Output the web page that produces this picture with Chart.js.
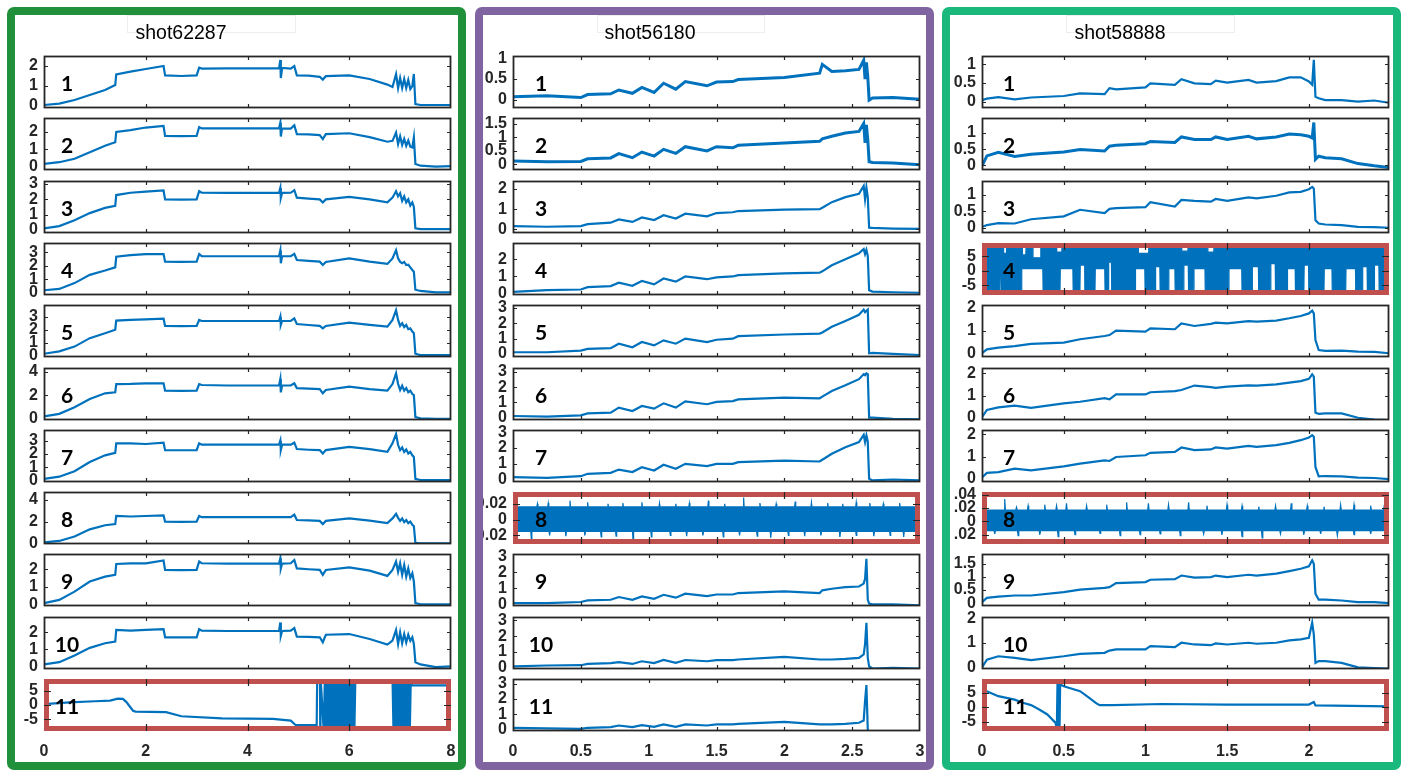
<!DOCTYPE html>
<html><head><meta charset="utf-8"><title>shots</title>
<script src="https://cdn.jsdelivr.net/npm/chart.js@4.4.1/dist/chart.umd.min.js"></script>
<style>
html,body{margin:0;padding:0;background:#fff}
#fig{position:relative;width:1409px;height:777px;overflow:hidden;background:#fff}
.panel{position:absolute;top:7px;width:443px;height:747px;border:8px solid;border-radius:7px;z-index:5}
.tbox{position:absolute;top:15px;height:16px;border:1px solid #eeeeee;z-index:1}
.title{position:absolute;top:23px;font-family:"Liberation Sans",Arial,sans-serif;font-size:19.5px;line-height:1;color:#000;z-index:3;white-space:nowrap;transform:translateX(-50%)}
.num{position:absolute;font-family:Lato,"Open Sans",sans-serif;font-weight:700;font-size:21px;line-height:1;color:#000;z-index:3;white-space:nowrap}
canvas{position:absolute;z-index:2}
</style></head>
<body><div id="fig"></div>
<script>
// ---------------- DATA ----------------
const TITLES = ['shot62287','shot56180','shot58888'];
const P1_XTICKS = [0,2,4,6,8];
const P2_XTICKS = [0,0.5,1,1.5,2,2.5,3];
const P3_XTICKS = [0,0.5,1,1.5,2];

// shot62287 (panel 1)
const P1_T = [0,0.3,0.6,0.9,1.2,1.4,1.42,1.7,2.0,2.35,2.38,2.7,3.0,3.05,3.1,3.6,4.1,4.62,4.645,4.655,4.68,4.85,4.92,4.97,5.2,5.42,5.48,5.54,6.0,6.4,6.75,6.85,6.92,6.96,7.0,7.04,7.08,7.12,7.16,7.2,7.24,7.27,7.3,7.4,7.7,8.0];
const P1_S1 = [0.05,0.12,0.3,0.55,0.8,1.05,1.58,1.72,1.85,2.0,1.53,1.5,1.53,1.92,1.87,1.88,1.88,1.88,2.3,1.4,1.9,1.87,2.0,1.53,1.52,1.46,1.32,1.49,1.53,1.35,1.07,0.95,1.6,0.9,1.4,0.9,1.35,0.9,1.3,0.85,1.0,1.6,0.1,0.05,0.05,0.05];
const P1_S2 = [0.15,0.25,0.45,0.82,1.2,1.4,2.0,2.1,2.25,2.34,1.77,1.76,1.77,2.28,2.2,2.2,2.2,2.2,2.53,1.73,2.2,2.19,2.38,1.87,1.85,1.81,1.58,1.87,1.92,1.7,1.43,1.48,1.96,1.3,1.75,1.25,1.6,1.2,1.5,1.15,1.1,1.68,0.15,0.05,0.0,0.02];
const P1_S3 = [0.1,0.25,0.63,1.1,1.44,1.58,2.28,2.43,2.5,2.58,2.0,1.98,2.0,2.53,2.43,2.42,2.42,2.42,2.75,2.1,2.42,2.43,2.6,2.11,2.05,2.0,1.8,2.0,2.16,2.0,1.8,2.11,2.53,2.2,2.4,1.9,2.2,1.8,2.0,1.6,1.8,1.5,0.1,0.05,0.05,0.05];
const P1_S4 = [0.2,0.3,0.73,1.34,1.66,1.9,2.68,2.8,2.88,2.88,2.32,2.3,2.32,2.88,2.73,2.72,2.72,2.72,3.15,2.2,2.72,2.73,2.9,2.44,2.38,2.32,2.07,2.3,2.56,2.32,2.15,2.56,3.17,2.56,2.3,2.2,2.3,2.07,2.1,1.9,1.7,1.58,0.24,0.15,0.05,0.05];
const P1_S5 = [0.15,0.33,0.7,1.35,1.73,2.0,2.7,2.75,2.8,2.85,2.29,2.28,2.29,2.75,2.67,2.67,2.67,2.67,3.0,2.37,2.67,2.67,2.87,2.44,2.36,2.29,2.1,2.29,2.54,2.37,2.24,2.75,3.5,2.75,2.29,2.5,2.2,2.37,2.04,2.1,1.86,1.73,0.15,0.05,0.05,0.05];
const P1_S6 = [0.2,0.42,0.98,1.68,2.16,2.24,2.94,2.95,3.0,3.0,2.38,2.37,2.38,2.94,2.86,2.82,2.82,2.82,3.36,2.24,2.82,2.82,3.0,2.6,2.55,2.52,2.16,2.44,2.72,2.52,2.38,2.94,3.84,2.94,2.44,2.8,2.38,2.6,2.24,2.38,2.1,2.0,0.14,0.05,0.0,0.0];
const P1_S7 = [0.13,0.3,0.71,1.4,1.9,2.08,2.8,2.8,2.75,2.85,2.29,2.28,2.29,2.8,2.7,2.7,2.7,2.7,3.0,2.3,2.7,2.7,2.85,2.37,2.32,2.29,2.03,2.29,2.54,2.37,2.16,2.8,3.5,2.67,2.29,2.49,2.16,2.34,2.03,2.16,1.9,1.78,0.13,0.05,0.05,0.05];
const P1_S8 = [0.1,0.23,0.63,1.29,1.66,1.77,2.51,2.46,2.51,2.57,2.0,1.98,2.0,2.51,2.4,2.4,2.4,2.4,2.4,2.4,2.4,2.4,2.63,2.14,2.1,2.06,1.77,2.06,2.29,2.09,1.86,2.29,2.71,2.34,2.06,2.29,1.94,2.14,1.86,2.0,1.71,1.57,0.06,0.02,0.02,0.02];
const P1_S9 = [0.06,0.25,0.72,1.3,1.58,1.68,2.3,2.34,2.34,2.5,1.96,1.95,1.96,2.44,2.34,2.32,2.32,2.32,2.63,2.05,2.32,2.34,2.53,2.05,2.0,1.96,1.68,1.96,2.1,1.92,1.62,1.96,2.44,1.85,2.34,1.68,2.24,1.58,2.05,1.5,1.77,1.3,0.06,0.0,0.0,0.0];
const P1_S10 = [0.12,0.25,0.64,1.09,1.36,1.46,2.14,2.1,2.14,2.19,1.71,1.7,1.71,2.19,2.1,2.08,2.08,2.08,2.58,1.8,2.08,2.1,2.25,1.75,1.73,1.71,1.42,1.86,1.9,1.61,1.28,1.51,2.14,1.32,2.0,1.36,1.9,1.4,1.86,1.5,1.71,1.32,0.25,0.12,-0.04,0.0];
const P1_T11 = [0,0.5,1.0,1.3,1.45,1.55,1.62,1.75,1.8,2.4,2.7,3.5,4.5,4.85,4.95,5.36,5.37,5.425,5.43,5.435,
  5.50,5.52,5.54,5.56,5.58,5.60,5.62,5.64,5.66,5.68,5.70,5.72,5.74,5.76,5.78,5.80,5.82,5.84,5.86,5.88,5.90,5.92,5.94,5.96,5.98,6.00,6.02,6.04,6.06,6.08,6.10,6.12,
  6.14,6.85,
  6.87,6.89,6.91,6.93,6.95,6.97,6.99,7.01,7.03,7.05,7.07,7.09,7.11,7.13,7.15,7.17,7.19,7.21,
  7.23,8.0];
const P1_S11 = [0.3,0.9,1.3,1.5,2.2,2.1,1.0,-2.0,-2.3,-2.5,-3.9,-4.6,-4.8,-5.4,-7.0,-7.0,10,10,-10,10,
  -9.5,9.5,-9.5,9.5,-9.5,9.5,-9.5,9.5,-9.5,9.5,-9.5,9.5,-9.5,9.5,-9.5,9.5,-9.5,9.5,-9.5,9.5,-9.5,9.5,-9.5,9.5,-9.5,9.5,-9.5,9.5,-9.5,9.5,-9.5,9.5,
  10,10,
  -9.5,9.5,-9.5,9.5,-9.5,9.5,-9.5,9.5,-9.5,9.5,-9.5,9.5,-9.5,9.5,-9.5,9.5,-9.5,9.5,
  6.9,6.8];

// shot56180 (panel 2)
const P2_T = [0,0.25,0.5,0.55,0.72,0.78,0.88,0.95,1.04,1.11,1.2,1.27,1.43,1.5,1.62,1.66,2.0,2.26,2.28,2.35,2.45,2.55,2.585,2.595,2.605,2.615,2.625,2.65,2.8,3.0];
const P2_S1 = [0.08,0.1,0.06,0.13,0.15,0.24,0.16,0.3,0.18,0.4,0.26,0.44,0.34,0.43,0.44,0.49,0.54,0.64,0.85,0.68,0.7,0.73,0.95,0.5,0.9,0.55,0.0,0.05,0.06,0.02];
const P2_S2 = [0.12,0.09,0.1,0.2,0.23,0.39,0.24,0.45,0.3,0.55,0.4,0.65,0.49,0.65,0.61,0.7,0.79,0.85,0.94,1.04,1.16,1.22,1.52,0.79,1.46,0.91,0.09,0.06,0.04,-0.02];
const P2_S3 = [0.16,0.13,0.16,0.26,0.33,0.49,0.37,0.59,0.46,0.7,0.54,0.78,0.65,0.81,0.85,0.91,0.98,1.0,1.07,1.35,1.6,1.76,2.16,1.5,2.08,1.6,0.08,0.07,0.04,0.02];
const P2_S4 = [0.1,0.2,0.24,0.38,0.44,0.64,0.46,0.74,0.54,0.88,0.7,1.0,0.84,0.95,1.0,1.08,1.18,1.22,1.3,1.65,2.0,2.35,2.6,2.3,2.55,2.2,0.2,0.12,0.08,0.05];
const P2_S5 = [0.11,0.11,0.22,0.33,0.38,0.67,0.44,0.78,0.56,0.89,0.67,1.0,0.78,0.93,1.0,1.16,1.27,1.33,1.4,1.78,2.16,2.56,2.9,2.73,2.82,2.9,0.04,0.07,0.0,-0.07];
const P2_S6 = [0.11,0.07,0.15,0.28,0.33,0.66,0.44,0.77,0.59,0.94,0.66,1.07,0.88,1.03,1.09,1.2,1.31,1.27,1.38,1.75,2.12,2.52,2.85,2.78,2.9,2.85,0.0,0.0,-0.07,-0.1];
const P2_S7 = [0.15,0.1,0.21,0.36,0.42,0.63,0.47,0.78,0.57,0.93,0.68,0.99,0.85,0.99,0.99,1.1,1.2,1.14,1.25,1.63,2.05,2.37,2.83,2.37,2.79,2.41,0.04,-0.06,0.0,-0.06];
const P2_S9 = [0.08,0.08,0.15,0.25,0.29,0.46,0.29,0.5,0.35,0.6,0.42,0.67,0.52,0.62,0.62,0.71,0.81,0.71,0.88,0.98,1.08,1.12,1.3,1.6,2.85,0.3,0.05,0.0,0.0,-0.06];
const P2_S10 = [0.1,0.15,0.17,0.25,0.3,0.36,0.25,0.42,0.3,0.5,0.32,0.5,0.42,0.49,0.49,0.53,0.7,0.53,0.53,0.53,0.57,0.63,0.85,1.48,2.85,0.63,0.1,-0.04,0.0,-0.04];
const P2_S11 = [0.11,0.07,0.04,0.11,0.15,0.26,0.15,0.28,0.17,0.33,0.17,0.33,0.26,0.33,0.33,0.37,0.5,0.33,0.33,0.33,0.36,0.44,0.59,1.86,2.9,0.0,-0.3,null,null,null];
const P2_N8_BAND = [-0.015, 0.016];
const P2_N8_UPX = [0.025,0.18,0.26,0.42,0.55,0.70,0.81,0.95,1.08,1.2,1.3,1.44,1.56,1.7,1.82,1.94,2.08,2.2,2.32,2.43,2.53,2.63,2.73,2.85,2.97];
const P2_N8_UPY = [0.021,0.02,0.021,0.024,0.022,0.02,0.021,0.022,0.021,0.02,0.021,0.024,0.02,0.028,0.021,0.02,0.023,0.022,0.021,0.02,0.022,0.021,0.02,0.021,0.023];
const P2_N8_DNX = [0.135,0.27,0.39,0.53,0.65,0.76,0.885,1.02,1.16,1.28,1.4,1.55,1.67,1.8,1.9,2.03,2.15,2.27,2.41,2.53,2.66,2.78,2.88,2.98];
const P2_N8_DNY = [-0.025,-0.02,-0.021,-0.02,-0.022,-0.021,-0.027,-0.022,-0.02,-0.021,-0.02,-0.022,-0.02,-0.021,-0.023,-0.02,-0.021,-0.02,-0.022,-0.02,-0.021,-0.02,-0.022,-0.021];

// shot58888 (panel 3)
const P3_T = [0,0.03,0.1,0.2,0.3,0.5,0.6,0.75,0.78,0.82,1.0,1.03,1.18,1.22,1.3,1.4,1.43,1.5,1.63,1.68,1.8,1.88,1.95,2.0,2.02,2.03,2.04,2.06,2.1,2.2,2.3,2.4,2.49];
const P3_S1 = [0.04,0.08,0.12,0.06,0.11,0.15,0.22,0.2,0.36,0.33,0.38,0.49,0.45,0.6,0.49,0.47,0.56,0.51,0.58,0.51,0.55,0.65,0.65,0.54,0.45,1.12,0.13,0.09,0.04,0.04,0.0,0.03,-0.03];
const P3_S2 = [-0.02,0.29,0.4,0.27,0.34,0.41,0.49,0.44,0.59,0.62,0.67,0.74,0.71,0.88,0.8,0.8,0.88,0.8,0.9,0.82,0.88,0.97,0.95,0.9,0.85,1.33,0.18,0.28,0.23,0.2,0.05,-0.02,-0.07];
const P3_S3 = [0.03,0.08,0.14,0.13,0.26,0.35,0.55,0.45,0.58,0.6,0.63,0.78,0.65,0.85,0.82,0.8,0.88,0.82,0.93,0.9,0.98,1.08,1.1,1.18,1.25,1.2,0.23,0.13,0.1,0.08,0.03,0.02,0.0];
const P3_S5 = [0.03,0.2,0.27,0.34,0.43,0.49,0.63,0.77,0.81,1.0,0.96,1.1,1.06,1.31,1.2,1.29,1.34,1.31,1.41,1.39,1.43,1.53,1.63,1.74,1.86,1.74,0.6,0.17,0.13,0.14,0.1,0.09,0.03];
const P3_S6 = [0.03,0.35,0.47,0.55,0.45,0.65,0.72,0.88,0.83,1.05,1.05,1.15,1.2,1.25,1.45,1.38,1.35,1.4,1.46,1.45,1.5,1.58,1.65,1.75,1.95,1.85,0.23,0.18,0.2,0.2,0.0,-0.08,-0.1];
const P3_S7 = [0.05,0.26,0.3,0.45,0.38,0.56,0.68,0.83,0.8,0.98,1.06,1.17,1.21,1.41,1.29,1.32,1.41,1.36,1.48,1.44,1.52,1.62,1.74,1.86,1.97,1.9,0.53,0.1,0.12,0.1,0.05,0.03,-0.02];
const P3_S9 = [0.04,0.2,0.25,0.29,0.29,0.42,0.51,0.58,0.61,0.76,0.8,0.89,0.91,1.05,0.97,0.99,1.05,0.99,1.08,1.05,1.12,1.22,1.31,1.4,1.63,1.5,0.36,0.13,0.13,0.1,0.04,0.04,0.0];
const P3_S10 = [0.0,0.31,0.45,0.38,0.29,0.45,0.55,0.59,0.68,0.73,0.73,0.86,0.82,1.0,0.93,0.9,0.97,0.93,1.0,0.96,1.0,1.1,1.14,1.2,1.82,1.34,0.18,0.25,0.25,0.18,0.0,-0.03,-0.05];
const P3_T11 = [0,0.05,0.1,0.15,0.2,0.25,0.3,0.35,0.4,0.45,0.458,0.462,0.466,0.47,0.474,0.478,0.5,0.6,0.65,0.7,0.72,0.8,1.1,1.5,2.0,2.03,2.04,2.49];
const P3_S11 = [6.2,5.0,3.8,3.2,2.6,1.5,0.7,-0.8,-2.5,-5.4,-7.5,9,-9,9,-9,7.8,7.2,5.5,3.5,1.3,0.7,0.7,1.1,0.9,0.9,1.8,0.6,0.3];
const P3_N4_BAND = [-7.5, 9];
const P3_N4_GAPS = [0.109,0.241,0.477,0.599,0.691,0.773,0.937,1.06,1.141,1.233,1.295,1.509,1.652,1.765,1.867,1.969,2.092,2.225,2.327,2.399];
const P3_N4_GAPE = [0.119,0.374,0.558,0.63,0.753,0.794,0.998,1.09,1.182,1.264,1.366,1.591,1.693,1.796,1.918,2.0,2.143,2.287,2.358,2.43];
const P3_N4_GAPL = [1.0,0.8,0.8,2.0,0.8,3.0,0.8,1.5,0.8,2.0,0.8,0.8,1.5,2.5,0.8,2.0,0.8,0.8,1.5,2.0];
const P3_N4_DIPS = [0.13,0.245,0.31,0.455,0.955,1.22,1.38];
const P3_N4_DIPE = [0.15,0.27,0.36,0.49,1.02,1.26,1.42];
const P3_N4_DIPL = [6.0,5.5,4.5,6.5,6.0,6.8,6.5];
const P3_N8_BAND = [-0.014, 0.017];
const P3_N8_UPX = [0.016,0.139,0.211,0.282,0.384,0.456,0.517,0.64,0.763,0.885,1.018,1.141,1.264,1.376,1.499,1.591,1.693,1.796,1.892,1.99,2.092,2.194,2.276,2.378,2.46];
const P3_N8_UPY = [0.031,0.0335,0.021,0.0235,0.025,0.0235,0.027,0.0235,0.025,0.0285,0.027,0.025,0.0285,0.0235,0.025,0.0235,0.022,0.0235,0.027,0.0235,0.022,0.025,0.025,0.0235,0.022];
const P3_N8_DNX = [0.078,0.221,0.354,0.466,0.569,0.722,0.845,0.967,1.09,1.213,1.356,1.468,1.591,1.714,1.826,1.969,2.072,2.174,2.276,2.378,2.47];
const P3_N8_DNY = [-0.019,-0.0215,-0.02,-0.023,-0.02,-0.018,-0.0215,-0.02,-0.019,-0.0215,-0.019,-0.02,-0.023,-0.025,-0.019,-0.02,-0.019,-0.0215,-0.02,-0.019,-0.018];

// ---------------- BUILDERS ----------------
const BLUE = '#0072BD';
const FONT = '"Liberation Sans", Arial, Helvetica, sans-serif';
const line = (T, S, w) => ({data: T.map((x,i)=>({x, y:S[i]})), borderColor:BLUE, borderWidth:w||2.2, pointRadius:0, fill:false, tension:0, spanGaps:false});
function spikeEnv(xmax, base, sx, sy){
  const p=[{x:0,y:base}];
  sx.forEach((c,i)=>{p.push({x:c-0.004,y:base},{x:c,y:sy[i]},{x:c+0.004,y:base});});
  p.push({x:xmax,y:base}); return p;
}
function gapEnv(xmax, base, gs, ge, gl){
  const p=[{x:0,y:base}];
  gs.forEach((s,i)=>{p.push({x:s,y:base},{x:s+0.002,y:gl[i]},{x:ge[i]-0.002,y:gl[i]},{x:ge[i],y:base});});
  p.push({x:xmax,y:base}); return p;
}
const band = (upper, lower) => [
  {data:upper, borderColor:BLUE, backgroundColor:BLUE, borderWidth:1.2, pointRadius:0, fill:'+1', tension:0},
  {data:lower, borderColor:BLUE, backgroundColor:BLUE, borderWidth:1.2, pointRadius:0, fill:false, tension:0}
];

const PANELS = [
 {left:7, color:'#21903B', canvasLeft:15, plotLeft:44, xmax:8, xticks:P1_XTICKS, titleX:181, tbox:[127,167], numX:67, numAlign:'c',
  subs:[
   {yr:[-0.1,2.5], yt:[0,1,2], sets:[line(P1_T,P1_S1)]},
   {yr:[-0.2,2.8], yt:[0,1,2], sets:[line(P1_T,P1_S2)]},
   {yr:[-0.2,3.2], yt:[0,1,2,3], sets:[line(P1_T,P1_S3)]},
   {yr:[-0.15,3.7], yt:[0,1,2,3], sets:[line(P1_T,P1_S4)]},
   {yr:[-0.1,3.9], yt:[0,1,2,3], sets:[line(P1_T,P1_S5)]},
   {yr:[-0.1,4.3], yt:[0,2,4], sets:[line(P1_T,P1_S6)]},
   {yr:[-0.1,3.8], yt:[0,1,2,3], sets:[line(P1_T,P1_S7)]},
   {yr:[-0.05,4.7], yt:[0,2,4], sets:[line(P1_T,P1_S8)]},
   {yr:[-0.1,2.87], yt:[0,1,2], sets:[line(P1_T,P1_S9)]},
   {yr:[-0.15,2.9], yt:[0,1,2], sets:[line(P1_T,P1_S10)]},
   {yr:[-9,9], yt:[-5,0,5], red:true, sets:[line(P1_T11,P1_S11)]}
  ]},
 {left:475, color:'#8064A2', canvasLeft:483, plotLeft:513, xmax:3, xticks:P2_XTICKS, titleX:650, tbox:[597,166], numX:541, numAlign:'c',
  subs:[
   {yr:[-0.19,1.05], yt:[0,0.5,1], sets:[line(P2_T,P2_S1,3)]},
   {yr:[-0.22,1.72], yt:[0,0.5,1,1.5], sets:[line(P2_T,P2_S2,3)]},
   {yr:[-0.18,2.4], yt:[0,1,2], sets:[line(P2_T,P2_S3)]},
   {yr:[-0.08,2.95], yt:[0,1,2], sets:[line(P2_T,P2_S4)]},
   {yr:[-0.2,3.2], yt:[0,1,2,3], sets:[line(P2_T,P2_S5)]},
   {yr:[-0.15,3.25], yt:[0,1,2,3], sets:[line(P2_T,P2_S6)]},
   {yr:[-0.16,3.14], yt:[0,1,2,3], sets:[line(P2_T,P2_S7)]},
   {yr:[-0.031,0.035], yt:[-0.02,0,0.02], red:true, sets:band(spikeEnv(3,P2_N8_BAND[1],P2_N8_UPX,P2_N8_UPY), spikeEnv(3,P2_N8_BAND[0],P2_N8_DNX,P2_N8_DNY))},
   {yr:[-0.1,3.15], yt:[0,1,2,3], sets:[line(P2_T,P2_S9)]},
   {yr:[-0.07,3.22], yt:[0,1,2,3], sets:[line(P2_T,P2_S10)]},
   {yr:[-0.1,3.3], yt:[0,1,2,3], sets:[line(P2_T,P2_S11)]}
  ]},
 {left:942, color:'#1BB87B', canvasLeft:953, plotLeft:982, xmax:2.49, xticks:P3_XTICKS, titleX:1120, tbox:[1066,167], numX:1003, numAlign:'l',
  subs:[
   {yr:[-0.17,1.22], yt:[0,0.5,1], sets:[line(P3_T,P3_S1)]},
   {yr:[-0.15,1.47], yt:[0,0.5,1], sets:[line(P3_T,P3_S2,3)]},
   {yr:[-0.16,1.43], yt:[0,0.5,1], sets:[line(P3_T,P3_S3)]},
   {yr:[-8.3,9.6], yt:[-5,0,5], red:true, sets:band(gapEnv(2.49,P3_N4_BAND[1],P3_N4_DIPS,P3_N4_DIPE,P3_N4_DIPL), gapEnv(2.49,P3_N4_BAND[0],P3_N4_GAPS,P3_N4_GAPE,P3_N4_GAPL))},
   {yr:[-0.13,2.1], yt:[0,1,2], sets:[line(P3_T,P3_S5)]},
   {yr:[-0.1,2.24], yt:[0,1,2], sets:[line(P3_T,P3_S6)]},
   {yr:[-0.15,2.2], yt:[0,1,2], sets:[line(P3_T,P3_S7)]},
   {yr:[-0.034,0.044], yt:[-0.02,0,0.02,0.04], red:true, sets:band(spikeEnv(2.49,P3_N8_BAND[1],P3_N8_UPX,P3_N8_UPY), spikeEnv(2.49,P3_N8_BAND[0],P3_N8_DNX,P3_N8_DNY))},
   {yr:[-0.11,1.87], yt:[0,0.5,1,1.5], sets:[line(P3_T,P3_S9)]},
   {yr:[-0.07,2.05], yt:[0,1,2], sets:[line(P3_T,P3_S10)]},
   {yr:[-8.2,9.7], yt:[-5,0,5], red:true, sets:[line(P3_T11,P3_S11)]}
  ]}
];

// ---------------- DRAWING ----------------
const boxPlugin = {
  id:'axbox',
  afterDatasetsDraw(chart, args, o){
    const {ctx, chartArea:a, scales:{x,y}} = chart;
    ctx.save();
    if (o.red){ ctx.strokeStyle='#C0504D'; ctx.lineWidth=5; ctx.strokeRect(a.left+2.5,a.top+2.5,a.width-5,a.height-5); }
    else { ctx.strokeStyle='#262626'; ctx.lineWidth=1.8; ctx.strokeRect(a.left+0.5,a.top+0.5,a.width-1,a.height-1); }
    ctx.strokeStyle='#262626'; ctx.lineWidth=1.2;
    const L = o.red ? 7 : 4;
    ctx.beginPath();
    x.ticks.forEach(t=>{const p=Math.round(x.getPixelForValue(t.value))+0.5; if(p<a.left+3||p>a.right-3) return;
      ctx.moveTo(p,a.bottom); ctx.lineTo(p,a.bottom-L); ctx.moveTo(p,a.top); ctx.lineTo(p,a.top+L);});
    y.ticks.forEach(t=>{const p=Math.round(y.getPixelForValue(t.value))+0.5; if(p<a.top+3||p>a.bottom-3) return;
      ctx.moveTo(a.left,p); ctx.lineTo(a.left+L,p); ctx.moveTo(a.right,p); ctx.lineTo(a.right-L,p);});
    ctx.stroke(); ctx.restore();
  }
};

const fig = document.getElementById('fig');
const PLOT_W = 407, PLOT_H = 52;
const fmt = (v) => String(Number(v));
PANELS.forEach((P, pi)=>{
  const pd = document.createElement('div'); pd.className='panel';
  pd.style.left = P.left+'px'; pd.style.borderColor = P.color; fig.appendChild(pd);
  const tb = document.createElement('div'); tb.className='tbox';
  tb.style.left = P.tbox[0]+'px'; tb.style.width = P.tbox[1]+'px'; fig.appendChild(tb);
  const tt = document.createElement('div'); tt.className='title'; tt.textContent = TITLES[pi];
  tt.style.left = P.titleX+'px'; fig.appendChild(tt);
  const yw = P.plotLeft - P.canvasLeft;
  P.subs.forEach((s, k)=>{
    const plotTop = Math.round(56 + 62.3*k);
    const bottom = (k === P.subs.length-1);
    const padT = 18, padB = bottom ? 0 : 18, axisH = bottom ? 36 : 0;
    const W = yw + PLOT_W + 16, H = padT + PLOT_H + padB + axisH;
    const cv = document.createElement('canvas');
    cv.width = W; cv.height = H;
    cv.style.left = P.canvasLeft+'px'; cv.style.top = (plotTop-padT)+'px';
    cv.style.width = W+'px'; cv.style.height = H+'px';
    fig.appendChild(cv);
    const tickFont = {family:FONT, size:16, weight:'bold'};
    new Chart(cv, {
      type:'line',
      data:{datasets:s.sets},
      options:{
        responsive:false, animation:false, events:[], devicePixelRatio:1,
        layout:{padding:{left:0,right:16,top:padT,bottom:padB}, autoPadding:false},
        plugins:{legend:{display:false}, tooltip:{enabled:false}, title:{display:false}, axbox:{red:!!s.red}},
        scales:{
          x:{type:'linear', min:0, max:P.xmax, display:bottom, position:'bottom',
             grid:{display:false, drawTicks:false}, border:{display:false},
             afterBuildTicks:(sc)=>{sc.ticks = P.xticks.map(v=>({value:v}));},
             afterFit:(sc)=>{ if(bottom) sc.height = axisH; },
             ticks:{padding:11, font:tickFont, color:'#262626', maxRotation:0, autoSkip:false, callback:fmt}},
          y:{type:'linear', min:s.yr[0], max:s.yr[1], position:'left',
             grid:{display:false, drawTicks:false}, border:{display:false},
             afterBuildTicks:(sc)=>{sc.ticks = s.yt.map(v=>({value:v}));},
             afterFit:(sc)=>{ sc.width = yw; },
             ticks:{padding:6, font:tickFont, color:'#262626', autoSkip:false, callback:fmt}}
        }
      },
      plugins:[boxPlugin]
    });
    const n = document.createElement('div'); n.className='num'; n.textContent = String(k+1);
    n.style.left = P.numX+'px'; n.style.top = (plotTop+26)+'px';
    n.style.transform = P.numAlign==='c' ? 'translate(-50%,-50%)' : 'translateY(-50%)';
    fig.appendChild(n);
  });
});
</script>
</body></html>
